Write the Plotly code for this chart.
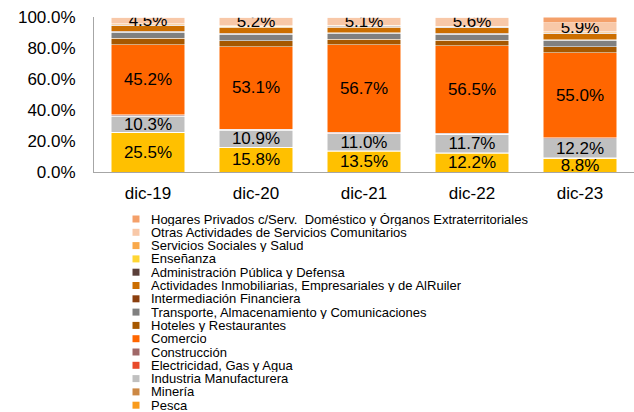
import plotly.graph_objects as go

# Categories and series (share of total, %), bottom of stack first
categories = ["dic-19", "dic-20", "dic-21", "dic-22", "dic-23"]
y_ticks = [0, 20, 40, 60, 80, 100]
y_tick_labels = ["0.0%", "20.0%", "40.0%", "60.0%", "80.0%", "100.0%"]

agricultura = [25.5, 15.8, 13.5, 12.2, 8.8]
pesca = [0.1, 0.1, 0.1, 0.1, 0.1]
mineria = [0.2, 0.2, 0.2, 0.2, 0.2]
industria = [10.3, 10.9, 11.0, 11.7, 12.2]
electricidad = [0.3, 0.3, 0.3, 0.3, 0.3]
construccion = [0.4, 0.4, 0.4, 0.4, 0.4]
comercio = [45.2, 53.1, 56.7, 56.5, 55.0]
hoteles = [4.2, 4.0, 3.6, 3.6, 3.8]
transporte = [4.0, 4.2, 3.8, 4.0, 4.2]
intermediacion = [0.5, 0.5, 0.4, 0.4, 0.4]
inmobiliarias = [3.6, 3.8, 3.5, 3.6, 3.8]
administracion = [0.4, 0.4, 0.4, 0.4, 0.4]
ensenanza = [0.3, 0.3, 0.3, 0.3, 0.3]
servicios_sociales = [0.5, 0.5, 0.4, 0.4, 0.5]
otras_actividades = [4.5, 5.2, 5.1, 5.6, 5.9]
hogares = [0.0, 0.3, 0.3, 0.3, 3.7]

# (name, values, colour, show value labels, show in legend)
series = [
    ("Agricultura", agricultura, "#FFC000", True, False),
    ("Pesca", pesca, "#F99B1C", False, True),
    ("Minería", mineria, "#CC8844", False, True),
    ("Industria Manufacturera", industria, "#C0C0C0", True, True),
    ("Electricidad, Gas y Agua", electricidad, "#E84A2A", False, True),
    ("Construcción", construccion, "#A06868", False, True),
    ("Comercio", comercio, "#FF6600", True, True),
    ("Hoteles y Restaurantes", hoteles, "#A65800", False, True),
    ("Transporte, Almacenamiento y Comunicaciones", transporte, "#808080", False, True),
    ("Intermediación Financiera", intermediacion, "#8B3F0E", False, True),
    ("Actividades Inmobiliarias, Empresariales y de AlRuiler", inmobiliarias, "#CC6E00", False, True),
    ("Administración Pública y Defensa", administracion, "#5A3F3A", False, True),
    ("Enseñanza", ensenanza, "#FFD633", False, True),
    ("Servicios Sociales y Salud", servicios_sociales, "#F9A94B", False, True),
    ("Otras Actividades de Servicios Comunitarios", otras_actividades, "#F8C8A8", True, True),
    ("Hogares Privados c/Serv.  Doméstico y Órganos Extraterritoriales", hogares, "#F4A06A", False, True),
]

FONT = "Liberation Sans, Arial, sans-serif"

fig = go.Figure()
for name, vals, color, labelled, _ in series:
    fig.add_trace(go.Bar(
        x=categories,
        y=vals,
        name=name,
        marker=dict(color=color, line=dict(color="white", width=0.5)),
        text=[f"{v:.1f}%" for v in vals] if labelled else None,
        textposition="inside" if labelled else "none",
        insidetextanchor="middle",
        textangle=0,
        constraintext="none",
        textfont=dict(family=FONT, size=17, color="black"),
        showlegend=False,
    ))

# Hand-made compact legend (top of stack first); plotly's own legend
# can't pack entries this tightly
legend_items = [(n, c) for n, _, c, _, inleg in series if inleg][::-1]
plot_left, plot_w = 94, 540
plot_top, plot_h = 17, 155
for i, (name, color) in enumerate(legend_items):
    ypix = 219 + 13.3 * i
    yp = (plot_top + plot_h - ypix) / plot_h
    fig.add_shape(
        type="rect", xref="paper", yref="paper",
        xsizemode="pixel", ysizemode="pixel",
        xanchor=(136 - plot_left) / plot_w, yanchor=yp,
        x0=-3.5, x1=3.5, y0=-3.5, y1=3.5,
        fillcolor=color, line=dict(width=0),
    )
    fig.add_annotation(
        x=(150 - plot_left) / plot_w, y=yp, xref="paper", yref="paper",
        text=name, showarrow=False, xanchor="left", yanchor="middle",
        height=13, borderpad=0,
        font=dict(family=FONT, size=13, color="black"),
    )

fig.update_layout(
    width=634, height=412,
    barmode="stack",
    bargap=0.315,
    margin=dict(l=plot_left, r=0, t=plot_top, b=412 - plot_top - plot_h),
    paper_bgcolor="white",
    plot_bgcolor="white",
    font=dict(family=FONT, size=17, color="black"),
    showlegend=False,
    xaxis=dict(
        showline=True, linecolor="#A6A6A6", linewidth=1,
        ticks="", ticklabelstandoff=6,
        tickfont=dict(size=17),
    ),
    yaxis=dict(
        range=[0, 100],
        tickvals=y_ticks, ticktext=y_tick_labels,
        showline=True, linecolor="#A6A6A6", linewidth=1,
        showgrid=False, zeroline=False,
        ticks="", ticklabelstandoff=14,
        tickfont=dict(size=17),
    ),
)

fig.write_html(
    "out.html",
    config={"displayModeBar": False},
    post_script="document.body.style.margin='0';",
)
